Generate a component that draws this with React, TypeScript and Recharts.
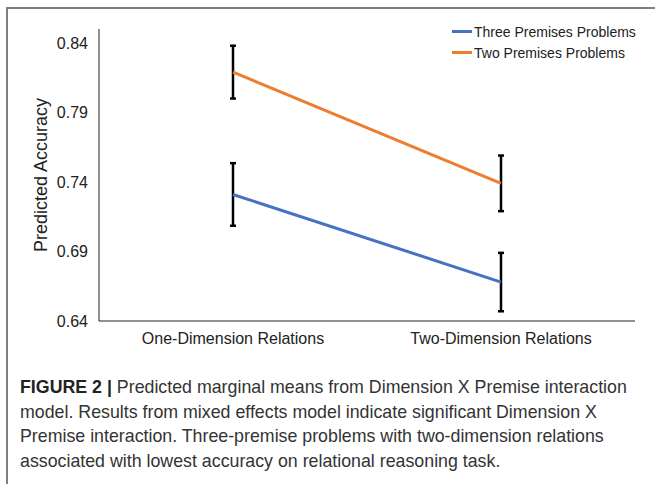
import React from "react";
import { LineChart, Line, XAxis, YAxis, ErrorBar, Legend } from "recharts";

const categories = ["One-Dimension Relations", "Two-Dimension Relations"];
const threePremises = [0.731, 0.668];
const threePremisesErr = [0.0225, 0.021];
const twoPremises = [0.819, 0.739];
const twoPremisesErr = [0.019, 0.02];
const yTicks = [0.64, 0.69, 0.74, 0.79, 0.84];
const seriesNames = ["Three Premises Problems", "Two Premises Problems"];
const captionLines = [
  "Predicted marginal means from Dimension X Premise interaction",
  "model. Results from mixed effects model indicate significant Dimension X",
  "Premise interaction. Three-premise problems with two-dimension relations",
  "associated with lowest accuracy on relational reasoning task.",
];

const data = categories.map((c, i) => ({
  name: c,
  three: threePremises[i],
  threeErr: threePremisesErr[i],
  two: twoPremises[i],
  twoErr: twoPremisesErr[i],
}));

const FONT = "'Liberation Sans', Arial, Helvetica, sans-serif";

const renderLegend = (props: any) => {
  const { payload } = props;
  return (
    <div style={{ fontFamily: FONT, fontSize: 14, color: "#222" }}>
      {payload.map((p: any, i: number) => (
        <div key={i} style={{ display: "flex", alignItems: "center", height: 21 }}>
          <div style={{ width: 20, height: 3, background: p.color, marginRight: 2 }} />
          <span>{p.value}</span>
        </div>
      ))}
    </div>
  );
};

export default function App() {
  return (
    <div
      style={{
        position: "absolute",
        left: 0,
        top: 0,
        width: 655,
        height: 484,
        background: "#fff",
        overflow: "hidden",
        fontFamily: FONT,
      }}
    >
      <div style={{ position: "absolute", left: 6, top: 7, width: 649, height: 2, background: "#7f7f7f" }} />
      <div style={{ position: "absolute", left: 6, top: 7, width: 2, height: 477, background: "#7f7f7f" }} />
      <div style={{ position: "absolute", left: 0, top: 0 }}>
        <LineChart
          width={655}
          height={360}
          data={data}
          margin={{ top: 29, right: 20, bottom: 9, left: 39 }}
        >
          <XAxis
            dataKey="name"
            height={30}
            padding={{ left: 134, right: 134 }}
            tickLine={false}
            tickMargin={6}
            axisLine={{ stroke: "#222", strokeWidth: 1 }}
            tick={{ fontSize: 16, fill: "#222", fontFamily: FONT }}
          />
          <YAxis
            width={60}
            domain={[0.64, 0.85]}
            ticks={yTicks}
            tickLine={false}
            tickMargin={5}
            axisLine={{ stroke: "#222", strokeWidth: 1 }}
            tick={{ fontSize: 16, fill: "#222", fontFamily: FONT }}
            tickFormatter={(v: number) => v.toFixed(2)}
          />
          <Legend
            layout="horizontal"
            verticalAlign="middle"
            align="center"
            content={renderLegend}
            wrapperStyle={{ position: "absolute", left: 452, top: 21, width: 200, height: 42 }}
          />
          <Line
            type="linear"
            dataKey="three"
            name={seriesNames[0]}
            stroke="#4472C4"
            strokeWidth={3}
            dot={false}
            activeDot={false}
            isAnimationActive={false}
          >
            <ErrorBar dataKey="threeErr" width={3} stroke="#000" strokeWidth={2.5} direction="y" isAnimationActive={false} />
          </Line>
          <Line
            type="linear"
            dataKey="two"
            name={seriesNames[1]}
            stroke="#ED7D31"
            strokeWidth={3}
            dot={false}
            activeDot={false}
            isAnimationActive={false}
          >
            <ErrorBar dataKey="twoErr" width={3} stroke="#000" strokeWidth={2.5} direction="y" isAnimationActive={false} />
          </Line>
        </LineChart>
      </div>
      <div
        style={{
          position: "absolute",
          left: 41,
          top: 175,
          transform: "translate(-50%, -50%) rotate(-90deg)",
          fontSize: 18,
          color: "#222",
          whiteSpace: "nowrap",
        }}
      >
        Predicted Accuracy
      </div>
      <div
        style={{
          position: "absolute",
          left: 20,
          top: 375,
          fontSize: 17.8,
          lineHeight: "24.5px",
          color: "#333",
          whiteSpace: "nowrap",
        }}
      >
        {captionLines.map((l, i) => (
          <div key={i}>
            {i === 0 ? <b style={{ color: "#222" }}>FIGURE 2 | </b> : null}
            {l}
          </div>
        ))}
      </div>
    </div>
  );
}
